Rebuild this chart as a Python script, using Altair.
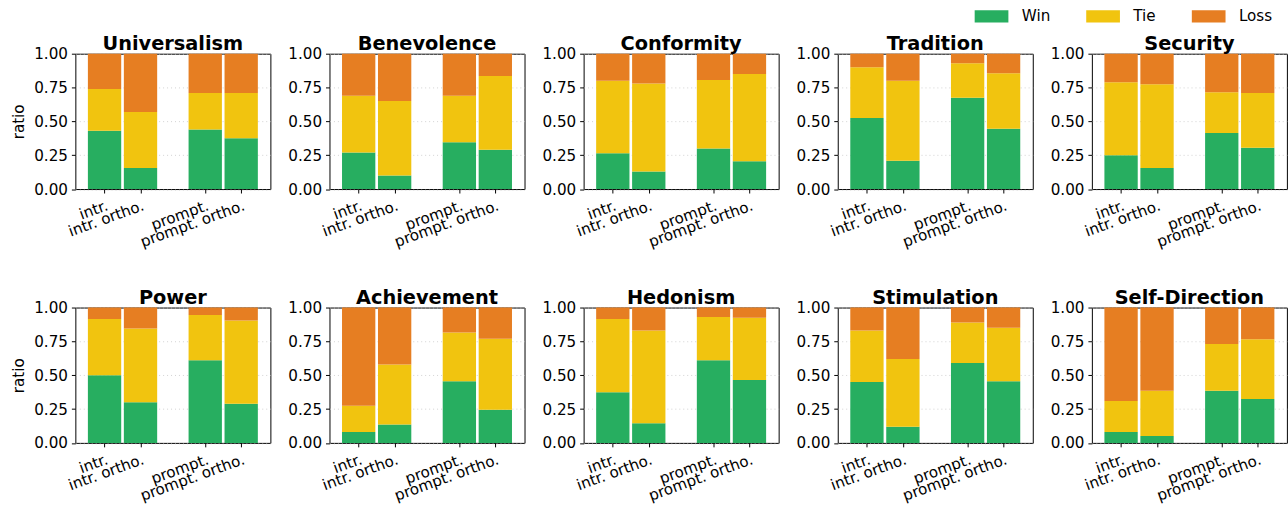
import altair as alt
import pandas as pd

# Schwartz value dimensions, drawn as a 2 x 5 grid of panels
values = ["Universalism", "Benevolence", "Conformity", "Tradition", "Security",
          "Power", "Achievement", "Hedonism", "Stimulation", "Self-Direction"]

methods = ["intr.", "intr. ortho.", "prompt.", "prompt. ortho."]
method_pos = [0.0, 1.0, 2.8, 3.8]

outcomes = ["Win", "Tie", "Loss"]
colors = ["#27ae60", "#f1c40f", "#e67e22"]

# win / tie / loss ratios per value, one entry per method
win = {
    "Universalism":   [0.430, 0.155, 0.440, 0.375],
    "Benevolence":    [0.270, 0.100, 0.345, 0.290],
    "Conformity":     [0.265, 0.130, 0.300, 0.205],
    "Tradition":      [0.525, 0.210, 0.675, 0.445],
    "Security":       [0.250, 0.155, 0.415, 0.305],
    "Power":          [0.500, 0.300, 0.610, 0.290],
    "Achievement":    [0.080, 0.135, 0.455, 0.245],
    "Hedonism":       [0.375, 0.145, 0.610, 0.465],
    "Stimulation":    [0.450, 0.120, 0.590, 0.455],
    "Self-Direction": [0.080, 0.050, 0.385, 0.325],
}
tie = {
    "Universalism":   [0.310, 0.415, 0.270, 0.335],
    "Benevolence":    [0.420, 0.550, 0.345, 0.545],
    "Conformity":     [0.535, 0.650, 0.505, 0.645],
    "Tradition":      [0.375, 0.590, 0.255, 0.410],
    "Security":       [0.540, 0.620, 0.300, 0.405],
    "Power":          [0.415, 0.545, 0.335, 0.615],
    "Achievement":    [0.195, 0.445, 0.360, 0.525],
    "Hedonism":       [0.540, 0.685, 0.320, 0.460],
    "Stimulation":    [0.380, 0.500, 0.300, 0.395],
    "Self-Direction": [0.230, 0.335, 0.345, 0.440],
}
loss = {
    "Universalism":   [0.260, 0.430, 0.290, 0.290],
    "Benevolence":    [0.310, 0.350, 0.310, 0.165],
    "Conformity":     [0.200, 0.220, 0.195, 0.150],
    "Tradition":      [0.100, 0.200, 0.070, 0.145],
    "Security":       [0.210, 0.225, 0.285, 0.290],
    "Power":          [0.085, 0.155, 0.055, 0.095],
    "Achievement":    [0.725, 0.420, 0.185, 0.230],
    "Hedonism":       [0.085, 0.170, 0.070, 0.075],
    "Stimulation":    [0.170, 0.380, 0.110, 0.150],
    "Self-Direction": [0.690, 0.615, 0.270, 0.235],
}

rows = []
for v in values:
    for i, m in enumerate(methods):
        for k, (o, src) in enumerate(zip(outcomes, [win, tie, loss])):
            rows.append({"value": v, "method": m, "pos": method_pos[i],
                         "outcome": o, "rank": k, "ratio": src[v][i]})
df = pd.DataFrame(rows)

FONT = "DejaVu Sans"
W, H = 196.7, 136.5
label_expr = " : ".join(
    f"datum.value == {p} ? '{m}'" for p, m in zip(method_pos, methods)
) + " : ''"


def panel(name, first_col):
    y_axis = alt.Axis(
        values=[0, 0.25, 0.5, 0.75, 1.0], format=".2f",
        grid=True, gridDash=[1, 3], gridColor="#c8c8c8", gridWidth=0.8,
        tickSize=4, labelPadding=4, labelFontSize=15.3,
        title="ratio" if first_col else None, titleFontSize=15.3,
        titleFontWeight="normal", titlePadding=7,
    )
    x_axis = alt.Axis(
        values=method_pos, labelExpr=label_expr, labelAngle=-20,
        labelAlign="right", labelBaseline="top", labelFontSize=15.3,
        tickSize=4, labelPadding=5, grid=False, labelOverlap=False,
        labelBound=False, labelFlush=False,
    )
    bars = (
        alt.Chart(df)
        .transform_filter(alt.datum.value == name)
        .mark_bar(size=33.6, orient="vertical")
        .encode(
            x=alt.X("pos:Q", axis=x_axis, title=None,
                    scale=alt.Scale(domain=[-0.674, 4.474], nice=False, zero=False)),
            y=alt.Y("ratio:Q", stack="zero", axis=y_axis,
                    scale=alt.Scale(domain=[0, 1], nice=False)),
            color=alt.Color(
                "outcome:N",
                scale=alt.Scale(domain=outcomes, range=colors),
                legend=alt.Legend(
                    title=None, orient="none", direction="horizontal",
                    legendX=907, legendY=-55,
                    # wide 34 x 12 swatch
                    symbolType="M-1,-0.36H1V0.36H-1Z", symbolSize=1156,
                    symbolStrokeWidth=0, symbolOpacity=1,
                    labelFontSize=15.3, labelOffset=13.5, columnPadding=35.5,
                ),
            ),
            order=alt.Order("rank:Q"),
        )
    )
    # panel heading, centred just above the frame
    heading = (
        alt.Chart(pd.DataFrame({"name": [name]}))
        .mark_text(font=FONT, fontSize=19.5, fontWeight="bold", color="#000000",
                   align="center", baseline="alphabetic")
        .encode(text="name:N", x=alt.value(W / 2), y=alt.value(-4))
    )
    return alt.layer(bars, heading).properties(width=W, height=H)


top = alt.hconcat(*[panel(v, i == 0) for i, v in enumerate(values[:5])], spacing=15.3)
bottom = alt.hconcat(*[panel(v, i == 0) for i, v in enumerate(values[5:])], spacing=15.3)

chart = (
    alt.vconcat(top, bottom, spacing=36)
    # the legend row has blank space above its swatches; pull the page up a little
    .properties(padding={"left": 11, "top": -3, "right": 0, "bottom": 0})
    .configure_view(stroke="#000000", strokeWidth=1)
    .configure_axis(domain=False, tickColor="#000000", labelColor="#000000",
                    titleColor="#000000", labelFont=FONT, titleFont=FONT)
    .configure_legend(labelFont=FONT, labelColor="#000000")
)

chart.save("out.html", embed_options={"renderer": "svg", "actions": False})
